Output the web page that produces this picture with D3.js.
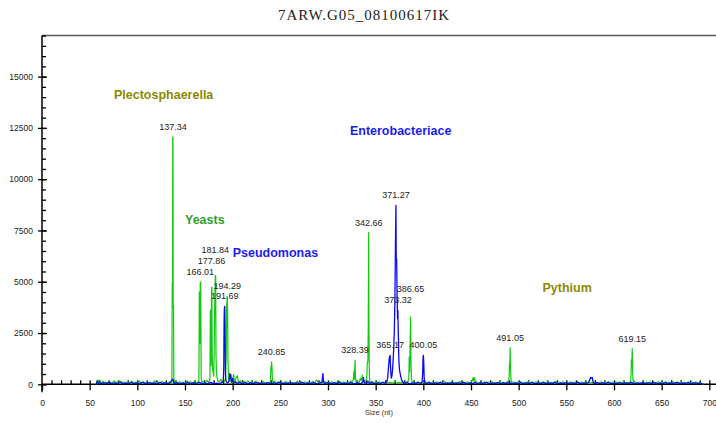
<!DOCTYPE html>
<html>
<head>
<meta charset="utf-8">
<script src="https://cdn.jsdelivr.net/npm/d3@7"></script>
<style>
  body { margin: 0; background: #fff; }
  svg { display: block; }
</style>
</head>
<body>
<svg id="chart" width="716" height="423"></svg>
<script>
// ---- data -------------------------------------------------------------
const chartTitle = "7ARW.G05_08100617IK";
const xAxisTitle = "Size (nt)";

const xTickValues = [0, 50, 100, 150, 200, 250, 300, 350, 400, 450, 500, 550, 600, 650, 700];
const xTickLabels = ["0", "50", "100", "150", "200", "250", "300", "350", "400", "450", "500", "550", "600", "650", "700"];
const yTickValues = [0, 2500, 5000, 7500, 10000, 12500, 15000];
const yTickLabels = ["0", "2500", "5000", "7500", "10000", "12500", "15000"];

// green dye trace: [size (nt), signal (rfu)]
const greenTrace = [
  [57,0],[57.6,180],[58.3,90],[59,220],[59.8,60],[61,130],[62.5,70],[64,150],[65.5,40],[67,110],
  [69,60],[71,140],[72.5,50],[74,100],[76,170],[77.5,60],[79,120],[81,50],[83,160],[84.5,70],
  [86,110],[88,40],[90,130],[92,60],[94,150],[96,50],[98,110],[100,70],[102,160],[104,60],
  [106,120],[108,40],[110,140],[112,70],[114,100],[116,50],[118,170],[120,60],[122,110],[124,50],
  [126,140],[128,70],[130,100],[132,50],[134,130],[135.5,60],
  [136.3,100],[136.6,4900],[136.9,5000],[137.1,12050],[137.34,12050],[137.6,3800],[138.0,3800],[138.3,300],[138.8,80],
  [140,150],[142,60],[144,130],[146,50],[148,100],[150,60],[152,170],[154,70],[156,120],[158,50],
  [160,150],[162,60],[163.8,120],
  [164.6,200],[165.0,4500],[165.4,4500],[165.7,2000],[166.01,4985],[166.4,4985],[166.7,2900],[167.0,300],[167.6,90],
  [169,140],[171,60],[173,200],[174.5,90],[175.6,150],
  [176.2,300],[176.6,3600],[177.0,3600],[177.4,900],[177.86,4730],[178.2,4730],[178.5,1500],[179.0,700],
  [179.5,600],[180.2,400],[180.7,2000],[181.2,4000],[181.84,5300],[182.2,5300],[182.5,1400],[183.0,600],
  [183.6,350],[184.5,150],
  [186,120],[187.5,250],[189,100],[190.3,200],[191.5,150],[192.5,300],
  [193.3,1500],[193.7,3800],[194.29,4290],[194.7,3500],[195.1,1200],[195.6,300],[196.5,150],
  [198,250],[199.5,100],[201,480],[202,120],[203.5,300],[205,420],[206,100],[208,180],[210,60],
  [212,140],[214,70],[216,160],[218,60],[220,120],[222,50],[224,140],[226,60],[228,110],[230,50],
  [232,130],[234,60],[236,100],[238,50],[239.6,150],
  [240.2,900],[240.5,700],[240.85,1100],[241.3,800],[241.7,200],[242.5,80],
  [244,150],[246,60],[248,120],[250,50],[252,100],[254,60],[256,140],[258,50],[260,120],[262,60],
  [264,100],[266,50],[268,150],[270,60],[272,110],[274,50],[276,130],[278,60],[280,100],[282,50],
  [284,140],[286,60],[288,220],[290,50],[292,100],[294,60],[296,150],[298,50],[300,110],[302,60],
  [304,130],[306,50],[308,100],[310,60],[312,140],[314,50],[316,120],[318,60],[320,100],[322,50],
  [324,160],[325.8,80],
  [326.6,250],[327.2,650],[327.7,250],[328.39,1170],[328.8,350],[329.5,120],
  [331,150],[332.5,60],[334,300],[335,180],[336.2,450],[337.2,200],[338.5,120],[340,200],
  [340.8,400],[341.2,1100],[341.8,1100],[342.2,2500],[342.66,7400],[343.0,2500],[343.4,400],[344,100],
  [346,150],[348,60],[350,120],[352,50],[354,130],[356,60],[358,100],[360,50],[362,120],[364,60],
  [366,100],[368,50],[370,130],[372,60],[374,100],[376,50],[378,120],[380,60],[382,100],[384,150],
  [384.8,300],[385.2,1330],[385.6,600],[386.2,2000],[386.65,3280],[387.0,1330],[387.5,300],[388.2,100],
  [390,130],[392,60],[394,120],[396,50],[398,100],[400,60],[402,140],[404,50],[406,120],[408,60],
  [410,100],[412,50],[414,130],[416,60],[418,110],[420,50],[422,140],[424,60],[426,100],[428,50],
  [430,120],[432,60],[434,100],[436,50],[438,140],[440,60],[442,110],[444,50],[446,120],[448,60],
  [450,100],
  [451.5,200],[452.2,340],[453,150],[453.8,330],[454.6,100],
  [456,120],[458,60],[460,100],[462,50],[464,130],[466,60],[468,110],[470,50],[472,120],[474,60],
  [476,100],[478,50],[480,130],[482,60],[484,100],[486,50],[488,120],[489.5,150],
  [490.0,400],[490.4,1020],[490.7,700],[491.05,1790],[491.4,1000],[491.8,300],[492.5,100],
  [494,120],[496,50],[498,110],[500,60],[502,130],[504,50],[506,100],[508,60],[510,140],[512,50],
  [514,110],[516,60],[518,120],[520,50],[522,100],[524,60],[526,130],[528,50],[530,110],[532,60],
  [534,100],[536,50],[538,140],[540,60],[542,110],[544,50],[546,120],[548,60],[550,100],[552,50],
  [554,130],[556,60],[558,100],[560,50],[562,120],[564,60],[566,110],[568,50],[570,130],[572,60],
  [574,100],[576,50],[578,120],[580,60],[582,100],[584,50],[586,130],[588,60],[590,110],[592,50],
  [594,120],[596,60],[598,100],[600,50],[602,130],[604,60],[606,110],[608,50],[610,120],[612,60],
  [614,100],[616,50],[617.4,150],
  [617.9,500],[618.3,1200],[618.7,900],[619.15,1740],[619.5,700],[619.9,250],[620.6,90],
  [622,130],[624,60],[626,100],[628,50],[630,120],[632,60],[634,110],[636,50],[638,130],[640,60],
  [642,100],[644,50],[646,120],[648,60],[650,110],[652,50],[654,130],[656,60],[658,100],[660,50],
  [662,120],[664,60],[666,110],[668,50],[670,130],[672,60],[674,100],[676,50],[678,120],[680,60],
  [682,110],[684,50],[686,120],[688,60],[690,100],[692,50],[694,0]
];

// blue dye trace: [size (nt), signal (rfu)]
const blueTrace = [
  [57,0],[58,150],[59,40],[61,90],[63,20],[65,80],[68,30],[70,110],[73,20],[76,70],
  [79,30],[82,100],[85,20],[88,60],[91,30],[94,90],[97,20],[100,70],[103,30],[106,100],
  [109,20],[112,80],[115,30],[118,60],[121,20],[124,90],[127,30],[130,70],[133,20],[136,180],
  [137.3,250],[138.5,40],[141,80],[144,20],[147,60],[150,30],[153,90],[156,20],[159,70],[162,30],
  [165,100],[168,20],[171,60],[174,30],[177,90],[180,20],[183,60],[186,30],[188.5,90],[190.2,150],
  [190.7,900],[191.0,3000],[191.3,3700],[191.69,3800],[192.0,2900],[192.4,500],[193.0,150],
  [194.5,60],[196.3,150],[197.0,530],[197.5,300],[198.1,460],[198.7,100],[200,280],[201,60],
  [203,120],[205,40],[207,90],[210,30],[213,80],[216,20],[219,70],[222,30],[225,90],[228,20],
  [231,60],[234,30],[237,80],[240,20],[243,70],[246,30],[249,90],[252,20],[255,60],[258,30],
  [261,80],[264,20],[267,70],[270,30],[273,90],[276,20],[279,60],[282,30],[285,80],[288,20],
  [291,40],[293.8,120],[294.6,520],[295.3,120],[297,40],[300,80],[303,20],[306,70],[309,30],[312,90],
  [315,20],[318,60],[321,30],[324,80],[327,20],[330,70],[333,30],
  [335,50],[336.5,120],[337.2,320],[338,80],[340,60],[342,150],[343.5,40],[346,80],[349,20],[352,70],
  [355,30],[358,90],
  [360,50],[361.5,120],[362.6,300],[363.4,800],[364.3,1300],[365.17,1410],[365.8,600],[366.5,300],
  [367.2,450],[368,900],[368.8,1600],[369.6,2600],[370.2,4200],[370.8,7000],[371.27,8720],[371.6,6040],
  [372.0,6100],[372.5,4200],[373.0,3200],[373.32,3600],[373.8,2400],[374.3,1200],[375,700],[376,450],
  [377,250],[378.5,100],[380,40],[383,80],[386,20],[389,70],[392,30],[395,90],
  [397,40],[398.6,100],[399.3,500],[399.7,1300],[400.05,1410],[400.5,1000],[400.9,300],[401.6,80],
  [403,30],[406,80],[409,20],[412,70],[415,30],[418,90],[421,20],[424,60],[427,30],[430,80],
  [433,20],[436,70],[439,30],[442,90],[445,20],[448,60],[451,30],[454,80],[457,20],[460,70],
  [463,30],[466,90],[469,20],[472,60],[475,30],[478,80],[481,20],[484,70],[487,30],[490,90],
  [493,20],[496,60],[499,30],[502,80],[505,20],[508,70],[511,30],[514,90],[517,20],[520,60],
  [523,30],[526,80],[529,20],[532,70],[535,30],[538,90],[541,20],[544,60],[547,30],[550,80],
  [553,20],[556,70],[559,30],[562,90],[565,20],[568,60],[570,40],[573,80],
  [574.5,200],[575.4,330],[576.3,300],[577.2,330],[578,150],[579,40],
  [582,80],[585,20],[588,70],[591,30],[594,90],[597,20],[600,60],[603,30],[606,80],[609,20],
  [612,70],[615,30],[618,90],[621,20],[624,60],[627,30],[630,80],[633,20],[636,70],[639,30],
  [642,90],[645,20],[648,60],[651,30],[654,80],[657,20],[660,70],[663,30],[666,90],[669,20],
  [672,60],[675,30],[678,80],[681,20],[684,70],[687,30],[690,60],[694,0]
];

// called peaks: size label and peak height
const peakSizes  = [137.34, 166.01, 177.86, 181.84, 191.69, 194.29, 240.85, 328.39, 342.66, 365.17, 371.27, 373.32, 386.65, 400.05, 491.05, 619.15];
const peakHeights = [12050, 4985, 4730, 5300, 3800, 4290, 1100, 1170, 7400, 1410, 8720, 3600, 3280, 1410, 1790, 1740];

// taxon annotations
const taxonNames = ["Plectosphaerella", "Yeasts", "Pseudomonas", "Enterobacteriace", "Pythium"];

// ---- layout -----------------------------------------------------------
const W = 716, H = 423;
const plot = { left: 42, right: 716, top: 35.6, bottom: 384.3 };
const taxonAnchors = [[75.5, 13900], [150, 7800], [200, 6200], [323, 12150], [525, 4520]];
const taxonColors = ["#8a8a00", "#2f9f2f", "#1c1cf0", "#1c1cf0", "#8a8a00"];
const greenColor = "#12c812";
const blueColor = "#0a0af0";

const svg = d3.select("#chart");

const x = d3.scaleLinear().domain([0, 707]).range([plot.left, plot.right]);
const y = d3.scaleLinear().domain([0, 17000]).range([plot.bottom, plot.top]);

// title
svg.append("text")
  .attr("x", 278).attr("y", 20)
  .attr("text-anchor", "start")
  .attr("font-family", "'Liberation Serif', 'Times New Roman', serif")
  .attr("font-size", 15)
  .attr("letter-spacing", 1)
  .attr("fill", "#222")
  .text(chartTitle);

// frame top line
svg.append("line")
  .attr("x1", plot.left).attr("x2", plot.right)
  .attr("y1", plot.top).attr("y2", plot.top)
  .attr("stroke", "#555").attr("stroke-width", 1.5);

const axisFont = "'Liberation Sans', Arial, sans-serif";

// y axis: minor ticks inside, major ticks crossing
const yMinor = svg.append("g").attr("transform", `translate(${plot.left},0)`)
  .call(d3.axisRight(y).tickValues(d3.range(0, 17001, 500)).tickSize(4).tickFormat(""));
const yMajorIn = svg.append("g").attr("transform", `translate(${plot.left},0)`)
  .call(d3.axisRight(y).tickValues(yTickValues).tickSize(5).tickFormat(""));
const yMajor = svg.append("g").attr("transform", `translate(${plot.left},0)`)
  .call(d3.axisLeft(y).tickValues(yTickValues).tickSize(4).tickPadding(5)
    .tickFormat((d, i) => yTickLabels[i]));
[yMinor, yMajorIn, yMajor].forEach(g => {
  g.select(".domain").remove();
  g.selectAll("line").attr("stroke", "#000").attr("stroke-width", 1.3);
});
yMajor.selectAll("text").attr("font-family", axisFont).attr("font-size", 8.5).attr("fill", "#222");
svg.append("line")
  .attr("x1", plot.left).attr("x2", plot.left)
  .attr("y1", plot.top).attr("y2", plot.bottom + 8)
  .attr("stroke", "#000").attr("stroke-width", 1.5);

// x axis: minor ticks up, major ticks down
const xMinor = svg.append("g").attr("transform", `translate(0,${plot.bottom})`)
  .call(d3.axisTop(x).tickValues(d3.range(10, 701, 10)).tickSize(4).tickFormat(""));
const xMajor = svg.append("g").attr("transform", `translate(0,${plot.bottom})`)
  .call(d3.axisBottom(x).tickValues(xTickValues).tickSize(6).tickPadding(10)
    .tickFormat((d, i) => xTickLabels[i]));
[xMinor, xMajor].forEach(g => {
  g.select(".domain").remove();
  g.selectAll("line").attr("stroke", "#000").attr("stroke-width", 1.3);
});
xMajor.selectAll("text").attr("font-family", axisFont).attr("font-size", 8.5).attr("fill", "#222");
svg.append("line")
  .attr("x1", plot.left).attr("x2", plot.right)
  .attr("y1", plot.bottom).attr("y2", plot.bottom)
  .attr("stroke", "#000").attr("stroke-width", 1.5);

svg.append("text")
  .attr("x", 379).attr("y", 415)
  .attr("text-anchor", "middle")
  .attr("font-family", axisFont).attr("font-size", 7.5).attr("fill", "#333")
  .text(xAxisTitle);

// traces
const line = d3.line().x(d => x(d[0])).y(d => y(d[1]));
svg.append("path").datum(greenTrace)
  .attr("d", line).attr("fill", "none")
  .attr("stroke", greenColor).attr("stroke-width", 1.2).attr("stroke-linejoin", "round");
svg.append("path").datum(blueTrace)
  .attr("d", line).attr("fill", "none")
  .attr("stroke", blueColor).attr("stroke-width", 1.3).attr("stroke-linejoin", "round");

// peak size labels, stacked upward where they would collide
const placed = [];
const labelLayer = svg.append("g");
peakSizes.map((s, i) => ({ s, h: peakHeights[i] }))
  .sort((a, b) => a.s - b.s)
  .forEach(p => {
    const t = labelLayer.append("text")
      .attr("x", x(p.s)).attr("text-anchor", "middle")
      .attr("font-family", axisFont).attr("font-size", 9).attr("fill", "#222")
      .text(p.s.toFixed(2));
    const w = t.node().getComputedTextLength();
    const x0 = x(p.s) - w / 2, x1 = x(p.s) + w / 2;
    let base = y(p.h) - 7;
    let moved = true;
    while (moved) {
      moved = false;
      for (const o of placed) {
        if (x0 < o.x1 && x1 > o.x0 && base - 8 < o.base + 1 && base + 1 > o.base - 8) {
          base = o.base - 11;
          moved = true;
        }
      }
    }
    t.attr("y", base);
    placed.push({ x0, x1, base });
  });

// taxon names
svg.append("g").selectAll("text").data(taxonNames).join("text")
  .attr("x", (d, i) => x(taxonAnchors[i][0]))
  .attr("y", (d, i) => y(taxonAnchors[i][1]))
  .attr("font-family", axisFont).attr("font-weight", "bold").attr("font-size", 12.5)
  .attr("fill", (d, i) => taxonColors[i])
  .text(d => d);
</script>
</body>
</html>
